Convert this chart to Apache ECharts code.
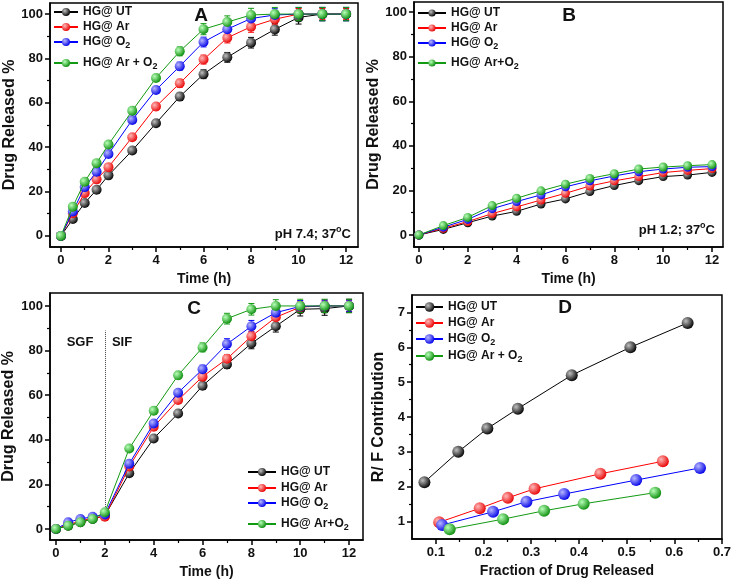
<!DOCTYPE html>
<html><head><meta charset="utf-8">
<script src="https://cdn.jsdelivr.net/npm/echarts@6/dist/echarts.min.js"></script>
<style>html,body{margin:0;padding:0;background:#fff}#c{width:734px;height:580px}</style>
</head><body><div id="c"></div>
<script>
// ---------- DATA ----------
// Panel A : pH 7.4
const timeA = [0,0.5,1,1.5,2,3,4,5,6,7,8,9,10,11,12];
const A_UT   = [0,7.6,14.8,20.8,27.3,38.5,50.8,62.8,72.9,80.5,87.1,93.1,98.5,100,100];
const A_Ar   = [0,10.2,19.3,25.5,31.0,44.5,58.3,68.8,79.5,89.3,94.3,97.7,100,100,100];
const A_O2   = [0,11.0,22.0,28.9,36.9,52.3,65.8,76.5,87.4,93.2,98.0,99.6,100,100,100];
const A_ArO2 = [0,13.2,24.4,32.8,41.2,56.4,71.2,83.2,93.2,96.4,99.6,100,100,100,100];
const A_UT_err   = [0,0.8,1,1,1.2,1.2,1.4,1.6,2,2.2,2.4,2.6,3,3,3];
const A_Ar_err   = [0,0.8,1,1,1.2,1.3,1.5,1.8,2,2.3,2.5,2.5,2.5,2.5,2.5];
const A_O2_err   = [0,0.8,1,1,1.2,1.3,1.5,1.8,2.2,2.4,2.6,2.8,3,3,3];
const A_ArO2_err = [0,0.8,1,1,1.2,1.5,1.6,2,2.5,2.8,3,3,3,3,3];
// Panel B : pH 1.2
const timeB = [0,1,2,3,4,5,6,7,8,9,10,11,12];
const B_UT   = [0,2.5,5.5,8.5,10.6,13.9,16.2,19.5,22.2,24.4,26.2,26.9,28.1];
const B_Ar   = [0,3.0,6.0,9.6,12.6,15.7,18.7,22.0,24.3,26.2,28.0,29.0,29.8];
const B_O2   = [0,3.5,7.0,11.8,15.0,18.0,21.6,24.3,26.5,28.4,29.6,30.4,30.7];
const B_ArO2 = [0,4.2,7.9,13.2,16.5,19.8,22.8,25.4,27.5,29.6,30.5,31.1,31.6];
// Panel C : SGF -> SIF
const timeC = [0,0.5,1,1.5,2,3,4,5,6,7,8,9,10,11,12];
const C_UT   = [0,1.5,3.0,4.5,6.0,25.0,40.6,51.8,64.2,73.8,83.2,90.9,98.5,98.8,100];
const C_Ar   = [0,2.0,3.5,5.0,5.5,28.0,45.8,57.8,68.3,76.3,86.4,94.9,99.5,100,100];
const C_O2   = [0,3.0,4.5,5.5,6.5,29.3,47.3,61.1,71.6,82.9,90.9,97.0,99.8,100,100];
const C_ArO2 = [0,1.5,3.0,4.5,7.5,36.1,53.0,68.9,81.4,94.3,98.5,100,100,100,100];
const C_UT_err   = [0,0.5,0.5,0.5,0.6,1,1.2,1.4,1.6,1.8,2.4,2.6,3,3,3];
const C_Ar_err   = [0,0.5,0.5,0.5,0.6,1,1.2,1.4,1.6,1.8,2.2,2.4,2.6,2.6,2.6];
const C_O2_err   = [0,0.5,0.5,0.5,0.6,1,1.2,1.4,1.8,2.4,2.6,2.6,2.6,2.6,2.6];
const C_ArO2_err = [0,0.5,0.5,0.5,0.6,1,1.2,1.6,2,2.4,2.6,2.8,3,3,3];
const sgfSifBoundary = 2;
const boundaryRange = [9, 89];
// Panel D : R/F contribution
const D_UT_x   = [0.076,0.147,0.208,0.272,0.385,0.508,0.628];
const D_UT_y   = [2.13,3.00,3.67,4.24,5.20,6.00,6.70];
const D_Ar_x   = [0.107,0.192,0.251,0.307,0.445,0.576];
const D_Ar_y   = [0.98,1.38,1.68,1.94,2.37,2.73];
const D_O2_x   = [0.113,0.220,0.290,0.369,0.520,0.654];
const D_O2_y   = [0.90,1.28,1.57,1.79,2.19,2.54];
const D_ArO2_x = [0.129,0.241,0.327,0.410,0.560];
const D_ArO2_y = [0.78,1.07,1.31,1.51,1.83];
// ticks
const timeTicks = [0,2,4,6,8,10,12];
const timeMinor = [1,3,5,7,9,11];
const pctTicks = [0,20,40,60,80,100];
const pctMinor = [10,30,50,70,90];
const fracTicks = [0.1,0.2,0.3,0.4,0.5,0.6,0.7];
const fracMinor = [0.15,0.25,0.35,0.45,0.55,0.65];
const rfTicks = [1,2,3,4,5,6,7];
const rfMinor = [1.5,2.5,3.5,4.5,5.5,6.5];

// ---------- STYLE ----------
const FONT = "'Liberation Sans', Arial, sans-serif";
const keys = ['UT','Ar','O2','ArO2'];
const lineColors = {UT:'#000000', Ar:'#ff0000', O2:'#0000ff', ArO2:'#129a12'};
function ball(c1,c2){return {type:'radial',x:0.35,y:0.35,r:0.7,colorStops:[{offset:0,color:c1},{offset:1,color:c2}]};}
const balls = {UT:ball('#c0c0c0','#000000'), Ar:ball('#ffb8b8','#e80000'), O2:ball('#b8b8ff','#0000e8'), ArO2:ball('#b8ffb8','#0a8c0a')};
const labelsSpaced = {UT:'HG@ UT', Ar:'HG@ Ar', O2:'HG@ O{sub|2}', ArO2:'HG@ Ar + O{sub|2}'};
const labelsTight  = {UT:'HG@ UT', Ar:'HG@ Ar', O2:'HG@ O{sub|2}', ArO2:'HG@ Ar+O{sub|2}'};

const panels = [
  {id:'A', grid:{left:50,top:3,width:308,height:244}, x:[-0.46,12.5], y:[-5,105],
   xMaj:timeTicks, xMin:timeMinor, yMaj:pctTicks, yMin:pctMinor, xName:'Time (h)', yName:'Drug Released %', xGap:25, yGap:32,
   xs:{UT:timeA,Ar:timeA,O2:timeA,ArO2:timeA}, ys:{UT:A_UT,Ar:A_Ar,O2:A_O2,ArO2:A_ArO2},
   errs:{UT:A_UT_err,Ar:A_Ar_err,O2:A_O2_err,ArO2:A_ArO2_err}, sym:10, labels:labelsSpaced,
   legend:{left:53, tops:[6,21,36,57], w:24}, xfmt:v=>String(v)},
  {id:'B', grid:{left:414,top:2,width:309,height:245}, x:[-0.2,12.45], y:[-5.4,104.6],
   xMaj:timeTicks, xMin:timeMinor, yMaj:pctTicks, yMin:pctMinor, xName:'Time (h)', yName:'Drug Released %', xGap:25, yGap:29,
   xs:{UT:timeB,Ar:timeB,O2:timeB,ArO2:timeB}, ys:{UT:B_UT,Ar:B_Ar,O2:B_O2,ArO2:B_ArO2},
   errs:null, sym:9, labels:labelsTight,
   legend:{left:417, tops:[7,22,37,57], w:28}, xfmt:v=>String(v)},
  {id:'C', grid:{left:49,top:293,width:314,height:247}, x:[-0.245,12.57], y:[-4.93,105.8],
   xMaj:timeTicks, xMin:timeMinor, yMaj:pctTicks, yMin:pctMinor, xName:'Time (h)', yName:'Drug Released %', xGap:25, yGap:33,
   xs:{UT:timeC,Ar:timeC,O2:timeC,ArO2:timeC}, ys:{UT:C_UT,Ar:C_Ar,O2:C_O2,ArO2:C_ArO2},
   errs:{UT:C_UT_err,Ar:C_Ar_err,O2:C_O2_err,ArO2:C_ArO2_err}, sym:10, labels:labelsTight,
   legend:{left:247, tops:[466,482,497,518], w:28}, xfmt:v=>String(v)},
  {id:'D', grid:{left:412,top:295,width:312,height:244}, x:[0.05,0.7], y:[0.5,7.5],
   xMaj:fracTicks, xMin:fracMinor, yMaj:rfTicks, yMin:rfMinor, xName:'Fraction of Drug Released', yName:'R/ F Contribution', xGap:25, yGap:25,
   xs:{UT:D_UT_x,Ar:D_Ar_x,O2:D_O2_x,ArO2:D_ArO2_x}, ys:{UT:D_UT_y,Ar:D_Ar_y,O2:D_O2_y,ArO2:D_ArO2_y},
   errs:null, sym:12, labels:labelsSpaced,
   legend:{left:415, tops:[301,317,333,350], w:27}, xfmt:v=>v.toFixed(1)}
];

const grids=[], xAxes=[], yAxes=[], series=[], legends=[];
const tickStyle = {color:'#000', width:1.5};
panels.forEach((p,pi)=>{
  grids.push(Object.assign({show:true, borderColor:'#000', borderWidth:1.5, containLabel:false}, p.grid));
  const mk = (dim)=>{
    const range = dim==='x'?p.x:p.y, maj = dim==='x'?p.xMaj:p.yMaj, mn = dim==='x'?p.xMin:p.yMin;
    const pos = dim==='x'?'bottom':'left';
    const common = {type:'value', gridIndex:pi, min:range[0], max:range[1], position:pos, splitLine:{show:false}};
    const main = Object.assign({}, common, {
      name: dim==='x'?p.xName:p.yName, nameLocation:'middle', nameGap: dim==='x'?p.xGap:p.yGap,
      nameTextStyle:{fontSize: dim==='x'?14:16, fontWeight:'bold', fontFamily:FONT, color:'#111'},
      axisLine:{show:true, onZero:false, lineStyle:tickStyle},
      axisTick:{show:true, length:5, customValues:maj, lineStyle:tickStyle},
      axisLabel:{show:true, customValues:maj, formatter: dim==='x'?p.xfmt:(v=>String(v)), fontSize:13, fontWeight:'bold', fontFamily:FONT, color:'#111', margin:7}
    });
    const minor = Object.assign({}, common, {
      axisLine:{show:false, onZero:false}, axisLabel:{show:false},
      axisTick:{show:true, length:3, customValues:mn, lineStyle:{color:'#000', width:1.2}}
    });
    return [main, minor];
  };
  xAxes.push(...mk('x')); yAxes.push(...mk('y'));
  const ai = pi*2;
  keys.forEach((k,ki)=>{
    const xs = p.xs[k], ys = p.ys[k];
    if (p.errs) {
      const es = p.errs[k], col = lineColors[k];
      series.push({type:'custom', xAxisIndex:ai, yAxisIndex:ai, silent:true, z:1+ki,
        data: xs.map((x,i)=>[x, ys[i], es[i]]), encode:{x:0,y:1},
        renderItem:(params, api)=>{
          const x=api.value(0), y=api.value(1), e=api.value(2);
          if(!e) return null;
          const t=api.coord([x,y+e]), b=api.coord([x,y-e]);
          const st={stroke:col, lineWidth:1};
          return {type:'group', children:[
            {type:'line', shape:{x1:t[0],y1:t[1],x2:b[0],y2:b[1]}, style:st},
            {type:'line', shape:{x1:t[0]-3,y1:t[1],x2:t[0]+3,y2:t[1]}, style:st},
            {type:'line', shape:{x1:b[0]-3,y1:b[1],x2:b[0]+3,y2:b[1]}, style:st}]};
        }});
    }
    const s = {type:'line', name:p.id+'_'+k, xAxisIndex:ai, yAxisIndex:ai, z:3+ki,
      data: xs.map((x,i)=>[x, ys[i]]), symbol:'circle', symbolSize:p.sym, showAllSymbol:true,
      itemStyle:{color:balls[k], borderWidth:0}, lineStyle:{color:lineColors[k], width:1}, emphasis:{disabled:true}};
    if (p.id==='C' && k==='UT') {
      s.markLine = {silent:true, symbol:['none','none'], label:{show:false},
        lineStyle:{type:'dotted', color:'#444', width:1},
        data:[[{coord:[sgfSifBoundary, boundaryRange[0]]},{coord:[sgfSifBoundary, boundaryRange[1]]}]]};
    }
    series.push(s);
    const lab = p.labels[k];
    legends.push({left:p.legend.left, top:p.legend.tops[ki], orient:'vertical', padding:0, itemGap:0,
      itemWidth:p.legend.w, itemHeight:p.sym, selectedMode:false, data:[p.id+'_'+k],
      formatter:()=>lab,
      textStyle:{fontSize:12, fontWeight:'bold', fontFamily:FONT, color:'#111',
        rich:{sub:{fontSize:9, fontWeight:'bold', fontFamily:FONT, color:'#111', padding:[7,0,0,0]}}}});
  });
});

function txt(x,y,text,size,align,rich){
  return {type:'text', x:x, y:y, z:100, style:{text:text, fontSize:size, fontWeight:'bold', fontFamily:FONT, fill:'#111', align:align||'center', verticalAlign:'middle', rich:rich}};
}
const supRich = {a:{fontSize:13, fontWeight:'bold', fontFamily:FONT, fill:'#111'}, s:{fontSize:9, fontWeight:'bold', fontFamily:FONT, fill:'#111', padding:[0,0,9,0]}};
const graphics = [
  txt(201,16,'A',19), txt(569,16,'B',19), txt(194,309,'C',19), txt(565,308,'D',19),
  txt(351,234,'{a|pH 7.4; 37}{s|o}{a|C}',13,'right',supRich),
  txt(715,230,'{a|pH 1.2; 37}{s|o}{a|C}',13,'right',supRich),
  txt(80,342,'SGF',13), txt(122,342,'SIF',13)
];

const chart = echarts.init(document.getElementById('c'), null, {renderer:'canvas'});
chart.setOption({animation:false, backgroundColor:'#fff', grid:grids, xAxis:xAxes, yAxis:yAxes,
  series:series, legend:legends, graphic:graphics, tooltip:{show:false}});
</script></body></html>
